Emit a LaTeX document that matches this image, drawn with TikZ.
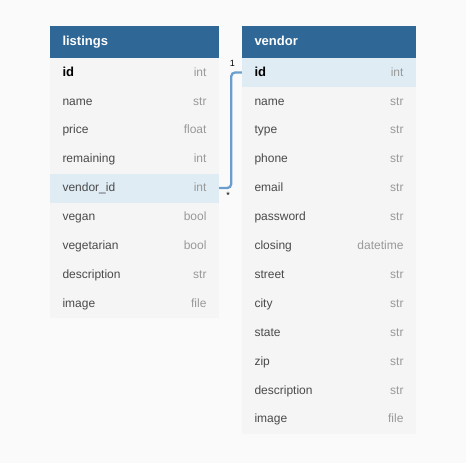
\documentclass[tikz,border=0pt]{standalone}
\usepackage{fontspec}
\setmainfont{Liberation Sans}
\usepackage{tikz}
\definecolor{headblue}{HTML}{2F6797}
\definecolor{rowgray}{HTML}{F5F5F5}
\definecolor{rowblue}{HTML}{DFECF4}
\definecolor{namegray}{HTML}{4A4A4A}
\definecolor{typegray}{HTML}{999999}
\definecolor{linkblue}{HTML}{6A9ECF}
\definecolor{pagegray}{HTML}{FAFAFA}
\tikzset{
    header/.style={rectangle, fill=headblue, text=white, font=\fontsize{13}{15}\selectfont\bfseries,
        minimum height=32pt, inner xsep=12.5pt, inner ysep=0pt, text width=#1,
        text height=9.4pt, text depth=2.2pt},
    lrow/.style={rectangle, fill=rowgray, text=namegray, font=\fontsize{12}{14}\selectfont,
        minimum height=28.9pt, inner xsep=12.5pt, inner ysep=0pt, text width=#1,
        text height=8.7pt, text depth=1.4pt},
    lrow/.default=144pt,
    keyrow/.style={lrow=#1, fill=rowblue},
    keyrow/.default=144pt,
    link/.style={draw=linkblue, line width=2.3pt, rounded corners=4pt},
    card/.style={font=\fontsize{9}{10}\selectfont, inner sep=0pt}
}
\newcommand{\typ}[1]{\hfill\textcolor{typegray}{#1}}
\newcommand{\keyname}[1]{\textcolor{black}{\fontsize{13}{14}\selectfont\bfseries #1}}
\begin{document}
\begin{tikzpicture}[x=1pt, y=-1pt]
    \fill[pagegray] (0,0) rectangle (466,463);
    \useasboundingbox (0,0) rectangle (466,463);
    % listings table
    \path
        (134.5,42) node(listings)[header=144pt]{listings}
        (134.5,72.45) node(l-id)[lrow]{\keyname{id}\typ{int}}
        (134.5,101.35) node(l-name)[lrow]{name\typ{str}}
        (134.5,130.25) node(l-price)[lrow]{price\typ{float}}
        (134.5,159.15) node(l-remaining)[lrow]{remaining\typ{int}}
        (134.5,188.05) node(l-vendor)[keyrow]{vendor\_id\typ{int}}
        (134.5,216.95) node(l-vegan)[lrow]{vegan\typ{bool}}
        (134.5,245.85) node(l-vegetarian)[lrow]{vegetarian\typ{bool}}
        (134.5,274.75) node(l-desc)[lrow]{description\typ{str}}
        (134.5,303.65) node(l-image)[lrow]{image\typ{file}};
    % vendor table
    \path
        (329,42) node(vendor)[header=149pt]{vendor}
        (329,72.45) node(v-id)[keyrow=149pt]{\keyname{id}\typ{int}}
        (329,101.35) node(v-name)[lrow=149pt]{name\typ{str}}
        (329,130.25) node(v-type)[lrow=149pt]{type\typ{str}}
        (329,159.15) node(v-phone)[lrow=149pt]{phone\typ{str}}
        (329,188.05) node(v-email)[lrow=149pt]{email\typ{str}}
        (329,216.95) node(v-password)[lrow=149pt]{password\typ{str}}
        (329,245.85) node(v-closing)[lrow=149pt]{closing\typ{datetime}}
        (329,274.75) node(v-street)[lrow=149pt]{street\typ{str}}
        (329,303.65) node(v-city)[lrow=149pt]{city\typ{str}}
        (329,332.55) node(v-state)[lrow=149pt]{state\typ{str}}
        (329,361.45) node(v-zip)[lrow=149pt]{zip\typ{str}}
        (329,390.35) node(v-desc)[lrow=149pt]{description\typ{str}}
        (329,419.25) node(v-image)[lrow=149pt]{image\typ{file}};
    % relation
    \draw [link] (l-vendor.east) -- ++(12,0) |- (v-id.west);
    \path
        (232.5,63) node(one)[card]{1}
        (228,195) node(many)[card]{*};
\end{tikzpicture}
\end{document}
